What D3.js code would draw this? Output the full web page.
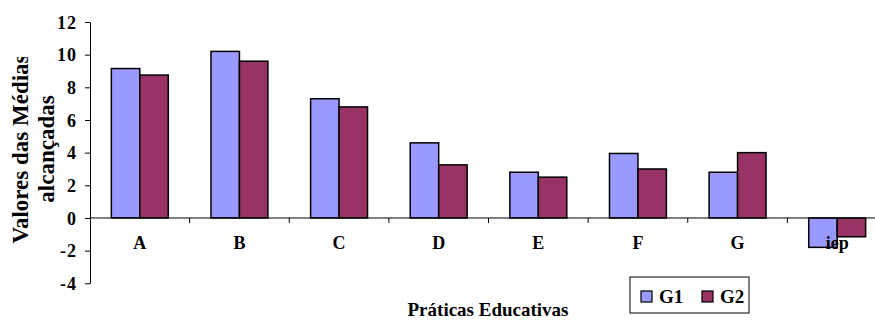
<!DOCTYPE html>
<html>
<head>
<meta charset="utf-8">
<script src="https://cdn.jsdelivr.net/npm/d3@7"></script>
<style>
  html, body { margin: 0; padding: 0; background: #fff; }
  svg text { font-family: "Liberation Serif", "Times New Roman", serif; font-weight: bold; fill: #000; }
</style>
</head>
<body>
<svg id="chart" width="875" height="320"></svg>
<script>
// Média por prática educativa, grupos G1 e G2
const categories = ["A", "B", "C", "D", "E", "F", "G", "iep"];
const seriesNames = ["G1", "G2"];
const g1Values = [9.15, 10.2, 7.3, 4.6, 2.8, 3.95, 2.8, -1.8];
const g2Values = [8.75, 9.6, 6.8, 3.25, 2.5, 3.0, 4.0, -1.15];
const yTickValues = [-4, -2, 0, 2, 4, 6, 8, 10, 12];
const seriesColors = ["#9999FF", "#993366"];

const svg = d3.select("#chart");

const plotLeft = 90, plotRight = 887, plotTop = 22, plotBottom = 283.3;

const x = d3.scaleBand().domain(categories).range([plotLeft, plotRight]).padding(0);
const xInner = d3.scaleBand().domain(seriesNames).range([0, x.bandwidth()])
  .paddingInner(0).paddingOuter(0.75);
const y = d3.scaleLinear().domain([-4, 12]).range([plotBottom, plotTop]);

const rows = categories.map((c, i) => ({ cat: c, G1: g1Values[i], G2: g2Values[i] }));

// Y axis
const yAxis = svg.append("g")
  .attr("transform", `translate(${plotLeft},0)`)
  .call(d3.axisLeft(y).tickValues(yTickValues).tickSize(5).tickSizeOuter(0).tickPadding(8)
    .tickFormat(d => String(d)));
yAxis.select(".domain").attr("stroke", "#000").attr("stroke-width", 1);
yAxis.selectAll(".tick line").attr("stroke", "#000");
yAxis.selectAll(".tick text")
  .style("font-size", "18px").style("letter-spacing", "1px")
  .attr("dy", "0.34em").attr("fill", "#000");

// Bars
const groups = svg.append("g").selectAll("g").data(rows).join("g")
  .attr("transform", d => `translate(${x(d.cat)},0)`);
groups.selectAll("rect").data(d => seriesNames.map((s, k) => ({ s, k, v: d[s] }))).join("rect")
  .attr("x", d => xInner(d.s))
  .attr("width", xInner.bandwidth())
  .attr("y", d => y(Math.max(0, d.v)))
  .attr("height", d => Math.abs(y(d.v) - y(0)))
  .attr("fill", d => seriesColors[d.k])
  .attr("stroke", "#000")
  .attr("stroke-width", 1.5);

// Category axis along zero
const xAxis = svg.append("g")
  .attr("transform", `translate(0,${y(0)})`);
xAxis.append("line")
  .attr("x1", plotLeft).attr("x2", plotRight)
  .attr("y1", 0).attr("y2", 0)
  .attr("stroke", "#000");
xAxis.selectAll("line.tick").data(categories.slice(1)).join("line")
  .attr("class", "tick")
  .attr("x1", d => x(d)).attr("x2", d => x(d))
  .attr("y1", 0).attr("y2", 5)
  .attr("stroke", "#000");

// Category labels
svg.append("g").selectAll("text").data(categories).join("text")
  .attr("x", d => x(d) + x.bandwidth() / 2)
  .attr("y", 249)
  .attr("text-anchor", "middle")
  .style("font-size", "18px")
  .text(d => d);

// Y axis title, two lines, clipped at the top
svg.append("defs").append("clipPath").attr("id", "ytitle-clip")
  .append("rect").attr("x", 0).attr("y", 57).attr("width", 80).attr("height", 263);
const yTitle = svg.append("g").attr("clip-path", "url(#ytitle-clip)")
  .append("text")
  .attr("transform", "translate(28,149) rotate(-90)")
  .attr("text-anchor", "middle")
  .style("font-size", "23px");
yTitle.append("tspan").attr("x", 0).attr("y", 0).text("Valores das Médias");
yTitle.append("tspan").attr("x", 0).attr("y", 26).text("alcançadas");

// X axis title
svg.append("text")
  .attr("x", 488).attr("y", 316)
  .attr("text-anchor", "middle")
  .style("font-size", "19px")
  .text("Práticas Educativas");

// Legend
const legend = svg.append("g").attr("transform", "translate(630,277)");
legend.append("rect")
  .attr("width", 119).attr("height", 36)
  .attr("fill", "#fff").attr("stroke", "#000").attr("stroke-width", 1);
const legendX = [11, 72];
const items = legend.selectAll("g.item").data(seriesNames).join("g")
  .attr("class", "item")
  .attr("transform", (d, i) => `translate(${legendX[i]},14)`);
items.append("rect")
  .attr("width", 11).attr("height", 11)
  .attr("fill", (d, i) => seriesColors[i])
  .attr("stroke", "#000").attr("stroke-width", 1.2);
items.append("text")
  .attr("x", 18).attr("y", 12)
  .style("font-size", "19px")
  .text(d => d);
</script>
</body>
</html>
